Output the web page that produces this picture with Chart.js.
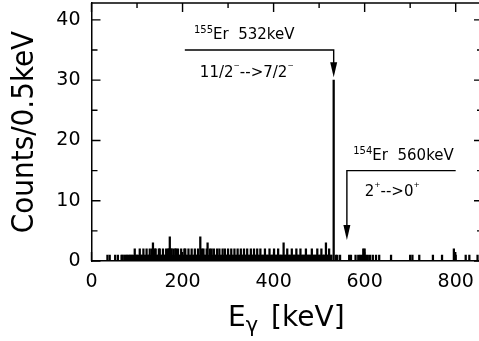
<!DOCTYPE html>
<html lang="en">
<head>
    <meta charset="UTF-8">
    <title>Er spectrum</title>
    <script src="https://cdn.jsdelivr.net/npm/chart.js"></script>
    <style>
        html, body { margin: 0; padding: 0; background: #fff; overflow: hidden; }
        #wrap { width: 486px; height: 341px; }
    </style>
</head>
<body>
    <div id="wrap"><canvas id="myChart" width="486" height="341"></canvas></div>
    <script>
        // energies (keV) of the non-empty 0.5 keV channels
        var energies = [35, 40, 52, 58,
            66, 68, 72, 75, 78, 81, 84, 86, 89, 92, 95, 98, 100, 103, 106, 109, 111, 114, 116, 119, 121, 124, 126, 128,
            131, 133, 135, 137, 139, 141, 144, 146, 148, 150, 152, 155, 157, 159, 161, 164, 166, 168, 170, 172, 174, 176,
            178, 180, 182, 184, 186, 188, 190, 193, 195, 197, 199, 201, 204, 206, 208, 211, 213, 215, 218, 220, 222, 225,
            227, 229, 232, 234, 236, 239, 241, 243, 246, 248, 250, 253, 255, 257, 260, 262, 264, 267, 269, 271, 274, 276,
            278, 281, 283, 286, 288, 290, 293, 295, 297, 300, 302, 305, 307, 309, 312, 314, 316, 319, 321, 323, 326, 328,
            330, 333, 335, 337, 340, 342, 345, 347, 350, 352, 354, 357, 359, 362, 364, 366, 369, 371, 374, 376, 379, 381,
            383, 386, 388, 391, 393, 396, 398, 401, 403, 406, 408, 410, 413, 415, 417, 420, 422, 425, 427, 430, 432, 435,
            437, 440, 442, 445, 447, 450, 452, 454, 457, 459, 462, 464, 467, 469, 471, 474, 476, 479, 481, 484, 486, 488,
            491, 493, 496, 498, 501, 503, 505, 508, 510, 512, 515, 518, 520, 522, 525, 527,
            532,
            537, 540, 546,
            566, 570, 580, 586, 590, 594, 597, 600, 603, 607, 612, 618, 625, 632,
            658, 700, 705, 720, 750, 770, 796, 800, 822, 830, 848];
        var counts = [1, 1, 1, 1,
            1, 1, 1, 1, 1, 1, 1, 1, 1, 1, 2, 1, 1, 1, 2, 1, 1, 2, 1, 1, 2, 1, 1, 2,
            1, 2, 3, 1, 2, 2, 1, 1, 2, 2, 1, 1, 2, 1, 1, 2, 1, 2, 2, 4, 2, 2,
            1, 2, 1, 2, 2, 1, 2, 1, 1, 2, 1, 1, 2, 2, 1, 1, 2, 1, 1, 2, 1, 1,
            2, 1, 1, 2, 1, 4, 1, 2, 2, 1, 1, 2, 3, 1, 2, 1, 2, 1, 2, 1, 1, 2,
            1, 2, 1, 1, 2, 1, 2, 1, 1, 2, 1, 1, 2, 1, 1, 2, 1, 1, 2, 1, 1, 2,
            1, 1, 2, 1, 1, 2, 1, 1, 2, 1, 1, 2, 1, 1, 2, 1, 1, 2, 1, 1, 1, 2,
            1, 1, 1, 2, 1, 1, 1, 2, 1, 1, 1, 2, 1, 1, 1, 1, 3, 1, 1, 2, 1, 1,
            1, 2, 1, 1, 1, 2, 1, 1, 1, 2, 1, 1, 1, 1, 2, 1, 1, 1, 1, 2, 1, 1,
            1, 1, 2, 1, 1, 1, 2, 1, 1, 1, 3, 1, 1, 2, 1, 1,
            30,
            1, 1, 1,
            1, 1, 1, 1, 1, 1, 2, 2, 1, 1, 1, 1, 1, 1,
            1, 1, 1, 1, 1, 1, 2, 1, 1, 1, 1];

        var xTickLabels = [0, 200, 400, 600, 800];
        var yTickLabels = [0, 10, 20, 30, 40];
        var xMinor = [100, 300, 500, 700];
        var yMinor = [5, 15, 25, 35];

        // the two marked transitions
        var lines = [
            { nucleus: '155', name: 'Er  532keV', trans: ['11/2', '\u207B', '-->7/2', '\u207B'], ex: 532, y: 35, tip: 30.5, from: 205, tx: 225, ty: 36.8, t2x: 238, t2y: 30.6 },
            { nucleus: '154', name: 'Er  560keV', trans: ['2', '\u207A', '-->0', '\u207A'], ex: 561, y: 15, tip: 3.5, from: 800, tx: 575, ty: 16.8, t2x: 600, t2y: 10.8 }
        ];

        var FONT = "'DejaVu Sans', sans-serif";

        var decorPlugin = {
            id: 'decor',
            afterDraw: function (chart) {
                var ctx = chart.ctx;
                var xs = chart.scales.x, ys = chart.scales.y;
                var a = chart.chartArea;
                ctx.save();
                ctx.strokeStyle = '#000';
                ctx.fillStyle = '#000';
                ctx.lineWidth = 1.4;

                // top and right border
                ctx.beginPath();
                ctx.moveTo(a.left, a.top); ctx.lineTo(a.right, a.top); ctx.lineTo(a.right, a.bottom);
                ctx.stroke();

                // inward ticks on all four sides
                function xt(v, len) {
                    var px = xs.getPixelForValue(v);
                    ctx.beginPath();
                    ctx.moveTo(px, a.bottom); ctx.lineTo(px, a.bottom - len);
                    ctx.moveTo(px, a.top); ctx.lineTo(px, a.top + len);
                    ctx.stroke();
                }
                function yt(v, len) {
                    var py = ys.getPixelForValue(v);
                    ctx.beginPath();
                    ctx.moveTo(a.left, py); ctx.lineTo(a.left + len, py);
                    ctx.moveTo(a.right, py); ctx.lineTo(a.right - len, py);
                    ctx.stroke();
                }
                xTickLabels.forEach(function (v) { xt(v, 9); });
                xMinor.forEach(function (v) { xt(v, 5); });
                yTickLabels.forEach(function (v) { yt(v, 9); });
                yMinor.forEach(function (v) { yt(v, 6); });

                // annotation arrows
                lines.forEach(function (l) {
                    var x0 = xs.getPixelForValue(l.from), x1 = xs.getPixelForValue(l.ex);
                    var y0 = ys.getPixelForValue(l.y), yTip = ys.getPixelForValue(l.tip);
                    ctx.beginPath();
                    ctx.moveTo(x0, y0); ctx.lineTo(x1, y0); ctx.lineTo(x1, yTip - 12);
                    ctx.stroke();
                    ctx.beginPath();
                    ctx.moveTo(x1 - 3.5, yTip - 15);
                    ctx.lineTo(x1 + 3.5, yTip - 15);
                    ctx.lineTo(x1, yTip);
                    ctx.closePath();
                    ctx.fill();

                    // labels with superscripts
                    var px = xs.getPixelForValue(l.tx), py = ys.getPixelForValue(l.ty);
                    ctx.textBaseline = 'alphabetic';
                    ctx.textAlign = 'left';
                    ctx.font = '10px ' + FONT;
                    ctx.fillText(l.nucleus, px, py - 6);
                    px += ctx.measureText(l.nucleus).width;
                    ctx.font = '15px ' + FONT;
                    ctx.fillText(l.name, px, py);

                    px = xs.getPixelForValue(l.t2x); py = ys.getPixelForValue(l.t2y);
                    l.trans.forEach(function (s, i) {
                        if (i % 2 === 1) {
                            ctx.font = '12px ' + FONT;
                            ctx.fillText(s, px, py - 5);
                        } else {
                            ctx.font = '15px ' + FONT;
                            ctx.fillText(s, px, py);
                        }
                        px += ctx.measureText(s).width;
                    });
                });

                // x axis title with subscript gamma
                var x = 228, ty = 326;
                ctx.font = '28px ' + FONT;
                ctx.fillText('E', x, ty);
                x += ctx.measureText('E').width;
                ctx.font = '21px ' + FONT;
                ctx.fillText('\u03B3', x, ty + 6);
                x += ctx.measureText('\u03B3').width + 13;
                ctx.font = '28px ' + FONT;
                ctx.fillText('[keV]', x, ty);
                ctx.restore();
            }
        };

        function fixedTicks(list) {
            return function (scale) {
                scale.ticks = list.map(function (v) { return { value: v }; });
            };
        }

        var ctx = document.getElementById('myChart').getContext('2d');
        var myChart = new Chart(ctx, {
            type: 'bar',
            data: {
                datasets: [{
                    label: 'Counts',
                    data: energies.map(function (e, i) { return { x: e, y: counts[i] }; }),
                    backgroundColor: '#000',
                    borderWidth: 0,
                    barThickness: 1.6
                }]
            },
            options: {
                responsive: false,
                animation: false,
                layout: { padding: { top: 3, right: 3, left: 0, bottom: 0 } },
                plugins: { legend: { display: false }, tooltip: { enabled: false } },
                scales: {
                    x: {
                        type: 'linear',
                        offset: false,
                        min: 0,
                        max: 860,
                        grid: { display: false, drawTicks: false, offset: false },
                        border: { display: true, color: '#000', width: 1.5 },
                        afterBuildTicks: fixedTicks(xTickLabels),
                        ticks: {
                            autoSkip: false,
                            maxRotation: 0,
                            padding: 10,
                            color: '#000',
                            font: { family: FONT, size: 19 }
                        },
                        afterFit: function (s) {
                            s.height = 80;
                            s.paddingLeft = 0;
                            s.paddingRight = 0;
                        }
                    },
                    y: {
                        min: 0,
                        max: 42.8,
                        grid: { display: false, drawTicks: false },
                        border: { display: true, color: '#000', width: 1.5 },
                        afterBuildTicks: fixedTicks(yTickLabels),
                        ticks: {
                            padding: 11,
                            color: '#000',
                            font: { family: FONT, size: 19 }
                        },
                        title: {
                            display: true,
                            text: 'Counts/0.5keV',
                            color: '#000',
                            padding: { top: 6, bottom: 0 },
                            font: { family: "'DejaVu Sans Condensed', 'DejaVu Sans', sans-serif", size: 31 }
                        },
                        afterFit: function (s) {
                            s.width = 91.5;
                            s.paddingTop = 0;
                            s.paddingBottom = 0;
                        }
                    }
                }
            },
            plugins: [decorPlugin]
        });
    </script>
</body>
</html>
